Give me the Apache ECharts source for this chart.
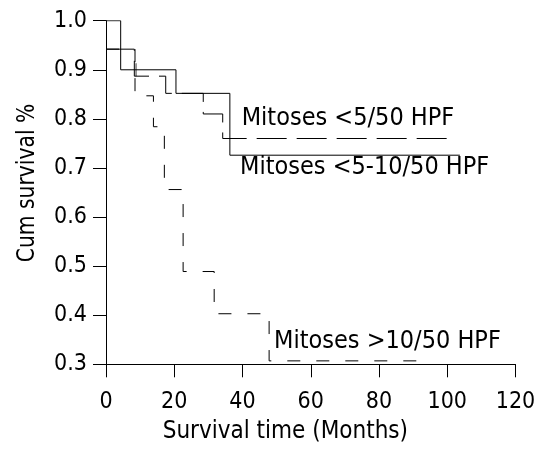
<!DOCTYPE html>
<html><head><meta charset="utf-8">
<script src="https://cdn.jsdelivr.net/npm/echarts@6/dist/echarts.min.js"></script>
<style>html,body{margin:0;padding:0;background:#fff}#c{width:542px;height:458px}</style>
</head><body><div id="c"></div>
<script>
// ---- data ----
const xTicks = [0, 20, 40, 60, 80, 100, 120];
const yTicks = [0.3, 0.4, 0.5, 0.6, 0.7, 0.8, 0.9, 1.0];

// Mitoses <5-10/50 HPF (solid)
const midStart = 1.0;
const midTimes = [4.3, 20.5, 36.3];
const midSurv  = [0.900, 0.852, 0.726];
const midEnd   = 103.7;
const midCensorT = [8.8];
const midCensorS = [0.900];

// Mitoses <5/50 HPF (long dash)
const lowStart = 0.942;
const lowTimes = [8.3, 17.5, 28.5, 34.2];
const lowSurv  = [0.887, 0.852, 0.810, 0.760];
const lowEnd   = 102.2;

// Mitoses >10/50 HPF (short dash)
const highStart = 0.942;
const highTimes = [8.5, 13.9, 17.1, 22.6, 31.7, 47.8];
const highSurv  = [0.847, 0.784, 0.656, 0.489, 0.403, 0.307];
const highEnd   = 92.9;

const labels = ['Mitoses <5/50 HPF', 'Mitoses <5-10/50 HPF', 'Mitoses >10/50 HPF'];
const xTitle = 'Survival time (Months)';
const yTitle = 'Cum survival %';

// ---- build ----
function stepPath(start, times, surv, end) {
  const pts = [[0, start]];
  let prev = start;
  for (let i = 0; i < times.length; i++) {
    pts.push([times[i], prev]);
    pts.push([times[i], surv[i]]);
    prev = surv[i];
  }
  pts.push([end, prev]);
  return pts;
}
const FONT = "'DejaVu Sans Condensed', 'DejaVu Sans', sans-serif";
const chart = echarts.init(document.getElementById('c'), null, {renderer: 'canvas'});
const lineBase = {type: 'line', symbol: 'none', silent: true, animation: false};
chart.setOption({
  backgroundColor: '#fff',
  animation: false,
  grid: {left: 106, right: 26.5, top: 20.7, bottom: 93.7},
  xAxis: {
    type: 'value', min: xTicks[0], max: xTicks[xTicks.length - 1], interval: 20,
    axisLine: {onZero: false, lineStyle: {color: '#000', width: 1}},
    axisTick: {length: 13, lineStyle: {color: '#000', width: 1}},
    axisLabel: {color: '#000', fontSize: 23, fontFamily: FONT, margin: 26},
    splitLine: {show: false}
  },
  yAxis: {
    type: 'value', min: yTicks[0], max: yTicks[yTicks.length - 1], interval: 0.1,
    axisLine: {onZero: false, lineStyle: {color: '#000', width: 1}},
    axisTick: {length: 13, lineStyle: {color: '#000', width: 1}},
    axisLabel: {color: '#000', fontSize: 23, fontFamily: FONT, margin: 19,
      formatter: v => v.toFixed(1)},
    splitLine: {show: false}
  },
  series: [
    Object.assign({}, lineBase, {data: stepPath(midStart, midTimes, midSurv, midEnd),
      lineStyle: {color: '#000', width: 1, type: 'solid'}}),
    Object.assign({}, lineBase, {data: stepPath(lowStart, lowTimes, lowSurv, lowEnd),
      lineStyle: {color: '#000', width: 1, type: [30, 10]}}),
    Object.assign({}, lineBase, {data: stepPath(highStart, highTimes, highSurv, highEnd),
      lineStyle: {color: '#000', width: 1, type: [13, 16]}}),
    {type: 'scatter', silent: true, animation: false, symbol: 'rect', symbolSize: [1, 13],
      itemStyle: {color: '#000'},
      data: midCensorT.map((t, i) => [t, midCensorS[i]])}
  ],
  graphic: [
    {type: 'text', left: 241.7, top: 106, style: {text: labels[0], fill: '#000', font: '25px ' + FONT}},
    {type: 'text', left: 240, top: 155, style: {text: labels[1], fill: '#000', font: '25px ' + FONT}},
    {type: 'text', left: 274, top: 329, style: {text: labels[2], fill: '#000', font: '25px ' + FONT}},
    {type: 'text', left: 162.7, top: 420, style: {text: xTitle, fill: '#000', font: '24px ' + FONT}},
    {type: 'text', x: 27.5, y: 183, rotation: Math.PI / 2, scaleX: 0.94,
      style: {text: yTitle, fill: '#000', font: '24px ' + FONT, align: 'center', verticalAlign: 'middle'}}
  ]
});
</script></body></html>
